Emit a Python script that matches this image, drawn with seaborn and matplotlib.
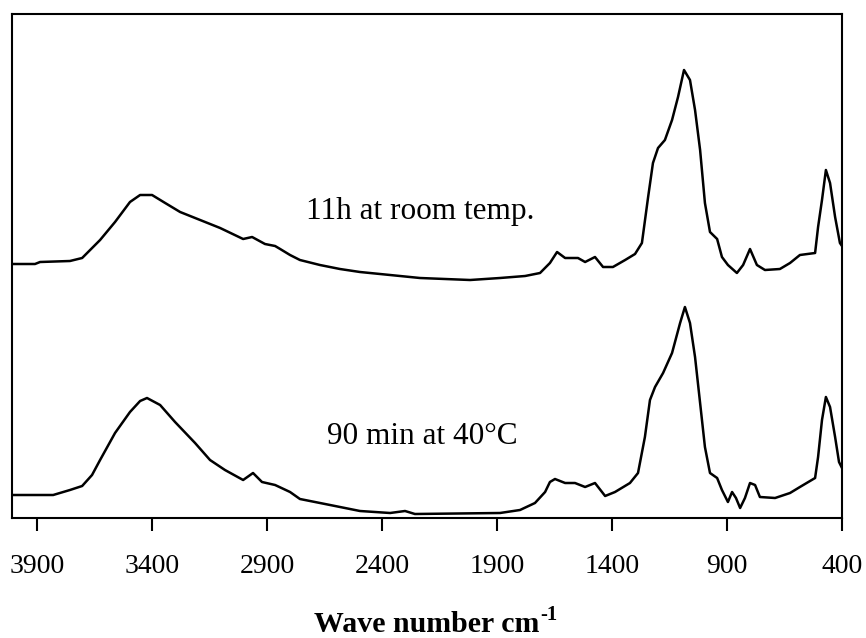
import matplotlib
matplotlib.use("Agg")
import matplotlib.pyplot as plt
import seaborn as sns
import pandas as pd

# Wavenumbers (cm^-1) and relative absorbance
wn_top = [4009, 3909, 3887, 3757, 3704, 3626, 3561, 3496, 3452, 3400, 3343, 3278,
          3191, 3104, 3004, 2965, 2909, 2865, 2843, 2800, 2757, 2670, 2583, 2496,
          2365, 2235, 2017, 1887, 1778, 1713, 1670, 1639, 1604, 1548, 1517, 1474,
          1439, 1396, 1343, 1300, 1270, 1243, 1222, 1200, 1170, 1139, 1113, 1087,
          1061, 1039, 1017, 996, 974, 943, 922, 896, 857, 830, 800, 770, 735, 670,
          626, 583, 517, 504, 487, 470, 452, 430, 409, 400]
abs_top = [2.54, 2.54, 2.56, 2.57, 2.60, 2.78, 2.96, 3.16, 3.23, 3.23, 3.15, 3.06,
           2.98, 2.90, 2.79, 2.81, 2.74, 2.72, 2.69, 2.63, 2.58, 2.53, 2.49, 2.46,
           2.43, 2.40, 2.38, 2.40, 2.42, 2.45, 2.55, 2.66, 2.60, 2.60, 2.56, 2.61,
           2.51, 2.51, 2.58, 2.64, 2.75, 3.21, 3.55, 3.70, 3.78, 3.98, 4.21, 4.48,
           4.38, 4.08, 3.68, 3.15, 2.86, 2.79, 2.61, 2.53, 2.45, 2.53, 2.69, 2.53,
           2.48, 2.49, 2.55, 2.63, 2.65, 2.91, 3.18, 3.48, 3.35, 3.01, 2.75, 2.72]

wn_bot = [4009, 3830, 3757, 3704, 3661, 3626, 3561, 3496, 3452, 3422, 3365, 3300,
          3213, 3148, 3083, 3004, 2961, 2922, 2865, 2800, 2757, 2626, 2496, 2365,
          2300, 2257, 1887, 1800, 1735, 1691, 1670, 1648, 1604, 1561, 1517, 1474,
          1430, 1387, 1322, 1287, 1257, 1235, 1213, 1178, 1139, 1104, 1083, 1061,
          1039, 1017, 996, 974, 943, 922, 896, 878, 861, 843, 822, 800, 778, 757,
          691, 626, 583, 517, 504, 487, 470, 452, 430, 413, 400]
abs_bot = [0.23, 0.23, 0.28, 0.32, 0.43, 0.58, 0.85, 1.06, 1.17, 1.20, 1.13, 0.96,
           0.75, 0.58, 0.48, 0.38, 0.45, 0.36, 0.33, 0.26, 0.19, 0.13, 0.07, 0.05,
           0.07, 0.04, 0.05, 0.08, 0.15, 0.26, 0.36, 0.39, 0.35, 0.35, 0.31, 0.35,
           0.22, 0.26, 0.35, 0.45, 0.81, 1.18, 1.31, 1.45, 1.65, 1.95, 2.11, 1.95,
           1.61, 1.15, 0.71, 0.45, 0.40, 0.28, 0.16, 0.26, 0.20, 0.10, 0.20, 0.35,
           0.33, 0.21, 0.20, 0.25, 0.31, 0.40, 0.61, 0.98, 1.21, 1.11, 0.81, 0.56,
           0.50]

tick_values = [3900, 3400, 2900, 2400, 1900, 1400, 900, 400]
labels = ["11h at room temp.", "90 min at 40\u00b0C"]

sns.set_style("white")
plt.rcParams['font.family'] = ['Liberation Serif', 'DejaVu Serif']
plt.rcParams['text.color'] = 'black'
plt.rcParams['xtick.color'] = 'black'
plt.rcParams['axes.labelcolor'] = 'black'

fig = plt.figure(figsize=(8.66, 6.38), dpi=100)
ax = fig.add_axes([12 / 866, 1 - 518 / 638, 830 / 866, 504 / 638])

df_top = pd.DataFrame({"wn": wn_top, "a": abs_top})
df_bot = pd.DataFrame({"wn": wn_bot, "a": abs_bot})
sns.lineplot(data=df_top, x="wn", y="a", sort=False, color="black", lw=1.8, ax=ax)
sns.lineplot(data=df_bot, x="wn", y="a", sort=False, color="black", lw=1.8, ax=ax)

ax.set_xlim(4009, 400)
ax.set_ylim(0, 5.04)
ax.set_xticks(tick_values)
ax.set_xticklabels([str(v) for v in tick_values], fontsize=20)
ax.set_yticks([])
ax.set_ylabel("")
ax.tick_params(axis="x", direction="out", length=9, width=1.5, pad=17, bottom=True,
               colors="black")
for s in ax.spines.values():
    s.set_visible(True)
    s.set_color("black")
    s.set_linewidth(1.5)

ax.text(2235, 3.06, labels[0], fontsize=22.5, ha="center", va="center", color="black")
ax.text(2226, 0.81, labels[1], fontsize=22.5, ha="center", va="center", color="black")

xl = ax.set_xlabel("Wave number cm", fontsize=21.5, fontweight="bold", labelpad=23,
                   color="black")
fig.canvas.draw()
bb = xl.get_window_extent(renderer=fig.canvas.get_renderer())
fig.text((bb.x1 + 1) / fig.bbox.width, (bb.y1 + 6) / fig.bbox.height, "-1",
         fontsize=15, fontweight="bold", ha="left", va="top", color="black")

fig.savefig("out.png", dpi=100)
